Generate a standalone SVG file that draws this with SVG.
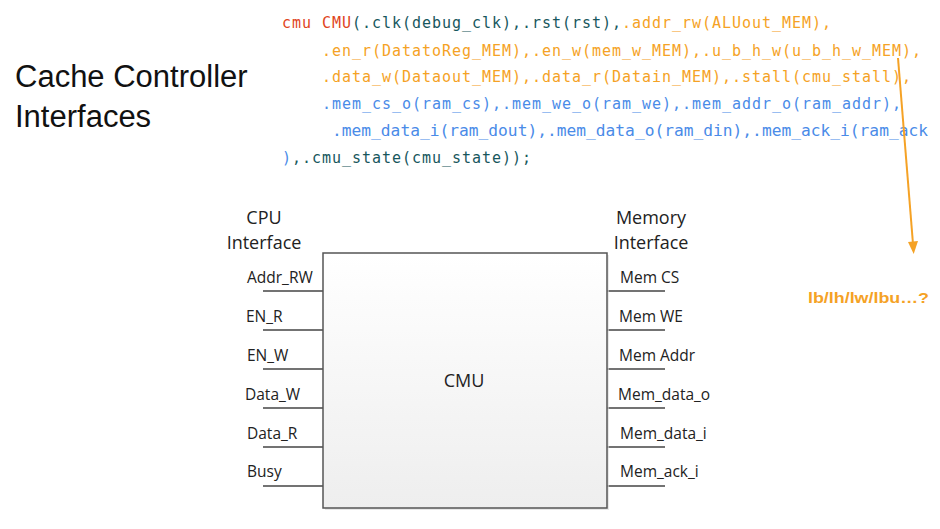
<svg xmlns="http://www.w3.org/2000/svg" width="940" height="529" viewBox="0 0 940 529">
<style>
.code{font-family:"DejaVu Sans Mono","Liberation Mono",monospace;font-size:15px;letter-spacing:0.97px;}
.red{fill:#e0451d}.teal{fill:#17575d}.org{fill:#f5a225}.blue{fill:#4a8be8}
.title{font-family:"Liberation Sans",Arial,sans-serif;font-size:31px;fill:#111}
.lbl{font-family:"Open Sans","Liberation Sans",sans-serif;font-size:15.5px;fill:#222}
.hdr{font-family:"Open Sans","Liberation Sans",sans-serif;font-size:18px;fill:#222}
.pin{stroke:#444;stroke-width:1.3;fill:none}
</style>
<defs>
<linearGradient id="g" x1="0" y1="0" x2="0" y2="1">
<stop offset="0" stop-color="#ffffff"/><stop offset="1" stop-color="#eeeeee"/>
</linearGradient>
</defs>
<g id="title">
<text class="title" x="15" y="87">Cache Controller</text>
<text class="title" x="15" y="127">Interfaces</text>
</g>
<g id="code" class="code">
<text x="282" y="28"><tspan class="red">cmu CMU</tspan><tspan class="teal">(.clk(debug_clk),.rst(rst),</tspan><tspan class="org">.addr_rw(ALUout_MEM),</tspan></text>
<text x="322" y="56" class="org">.en_r(DatatoReg_MEM),.en_w(mem_w_MEM),.u_b_h_w(u_b_h_w_MEM),</text>
<text x="322" y="82" class="org">.data_w(Dataout_MEM),.data_r(Datain_MEM),.stall(cmu_stall),</text>
<text x="322" y="109" class="blue">.mem_cs_o(ram_cs),.mem_we_o(ram_we),.mem_addr_o(ram_addr),</text>
<text x="332" y="136" class="blue" style="letter-spacing:0" textLength="596" lengthAdjust="spacingAndGlyphs">.mem_data_i(ram_dout),.mem_data_o(ram_din),.mem_ack_i(ram_ack</text>
<text x="282" y="163"><tspan class="blue">)</tspan><tspan class="teal">,.cmu_state(cmu_state));</tspan></text>
</g>
<g id="connectors">
<line x1="898" y1="58" x2="913" y2="244" stroke="#f5a225" stroke-width="2"/>
<path d="M908,242 L918,241 L913.7,254 Z" fill="#f5a225"/>
<g class="pin">
<line x1="263" y1="291" x2="323" y2="291"/>
<line x1="263" y1="330" x2="323" y2="330"/>
<line x1="263" y1="369" x2="323" y2="369"/>
<line x1="263" y1="408" x2="323" y2="408"/>
<line x1="263" y1="447" x2="323" y2="447"/>
<line x1="263" y1="486" x2="323" y2="486"/>
<line x1="607" y1="291" x2="665" y2="291"/>
<line x1="607" y1="330" x2="665" y2="330"/>
<line x1="607" y1="369" x2="665" y2="369"/>
<line x1="607" y1="408" x2="665" y2="408"/>
<line x1="607" y1="447" x2="665" y2="447"/>
<line x1="607" y1="486" x2="665" y2="486"/>
</g>
</g>
<g id="cmu">
<rect x="325" y="255" width="284" height="255" fill="#d8d8d8" opacity="0.6"/>
<rect x="323" y="253" width="284" height="255" fill="url(#g)" stroke="#555" stroke-width="1.5"/>
<text x="464" y="387" text-anchor="middle" class="hdr">CMU</text>
</g>
<g id="cpu-interface">
<text class="hdr" x="264" y="224" text-anchor="middle">CPU</text>
<text class="hdr" x="264" y="249" text-anchor="middle">Interface</text>
<text class="lbl" x="247" y="283">Addr_RW</text>
<text class="lbl" x="246" y="322">EN_R</text>
<text class="lbl" x="247" y="361">EN_W</text>
<text class="lbl" x="245" y="400">Data_W</text>
<text class="lbl" x="247" y="439">Data_R</text>
<text class="lbl" x="247" y="477">Busy</text>
</g>
<g id="memory-interface">
<text class="hdr" x="651" y="224" text-anchor="middle">Memory</text>
<text class="hdr" x="651" y="249" text-anchor="middle">Interface</text>
<text class="lbl" x="620" y="283">Mem CS</text>
<text class="lbl" x="619" y="322">Mem WE</text>
<text class="lbl" x="619" y="361">Mem Addr</text>
<text class="lbl" x="618" y="400">Mem_data_o</text>
<text class="lbl" x="620" y="439">Mem_data_i</text>
<text class="lbl" x="620" y="477">Mem_ack_i</text>
</g>
<g id="note">
<text x="808" y="303" font-family="Liberation Sans,Arial,sans-serif" font-weight="bold" font-size="15" fill="#f5a225" textLength="121" lengthAdjust="spacingAndGlyphs">lb/lh/lw/lbu…?</text>
</g>
</svg>
